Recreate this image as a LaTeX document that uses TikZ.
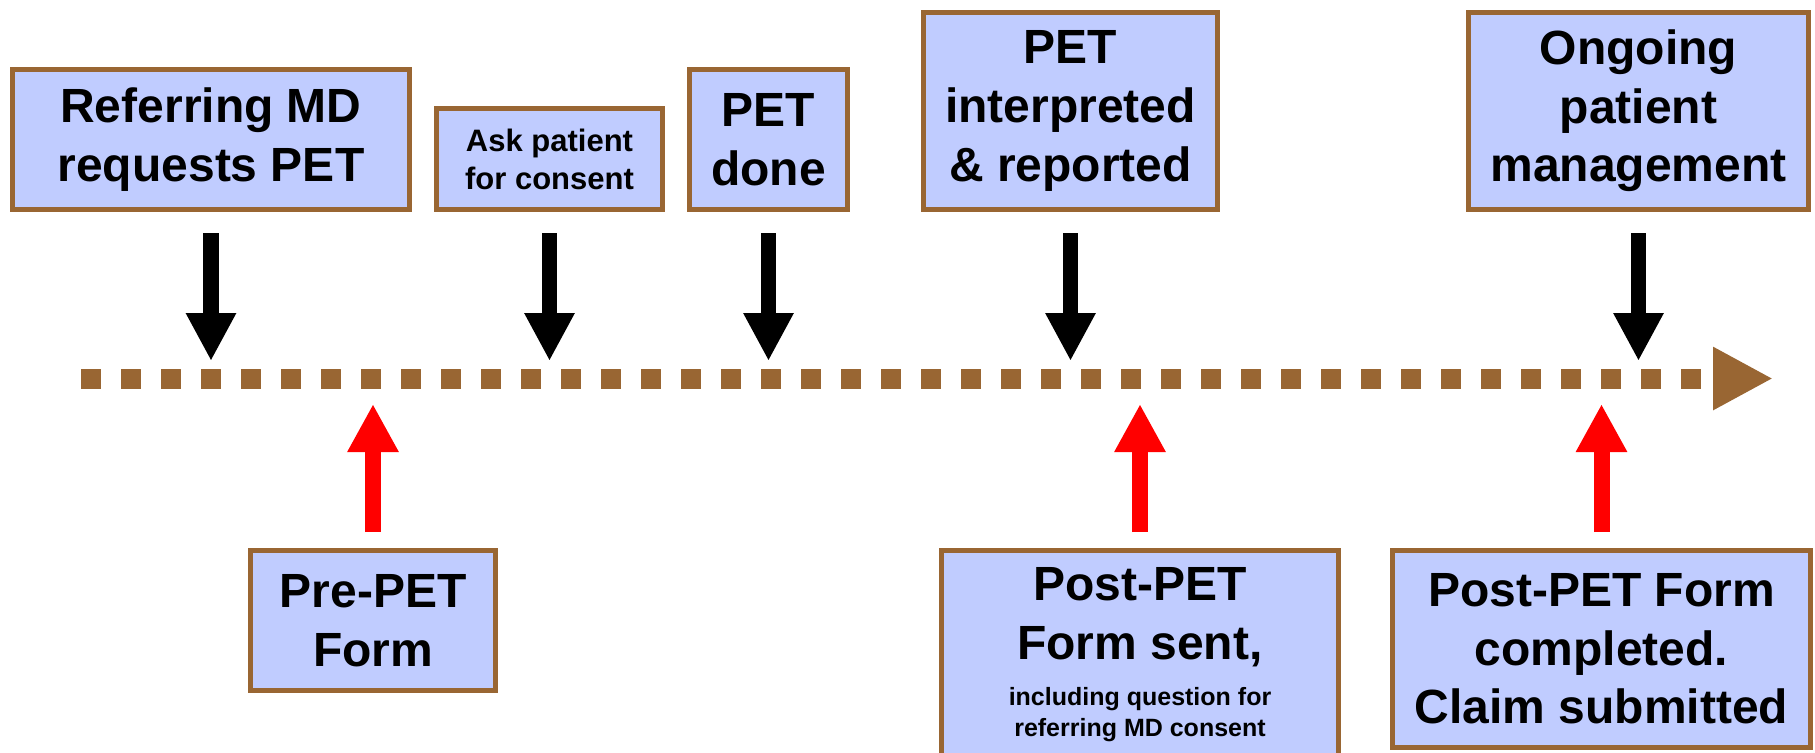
\documentclass[tikz,border=0pt]{standalone}
\usepackage{fontspec}
\setmainfont{Liberation Sans}
\usetikzlibrary{arrows.meta,calc}
\definecolor{brn}{RGB}{153,102,51}
\definecolor{boxfill}{RGB}{192,204,255}
\definecolor{redarr}{RGB}{255,0,0}
\begin{document}
\begin{tikzpicture}[x=0.5pt,y=-0.5pt,
  stepbox/.style={draw=brn, fill=boxfill, line width=2.5pt, inner sep=0pt, align=center,
    font=\fontsize{24}{29.3}\selectfont\bfseries},
  smallbox/.style={stepbox, font=\fontsize{15.5}{19}\selectfont\bfseries},
  downarrow/.style={draw=black, line width=7.8pt, -{Triangle[length=24pt,width=23.5pt]}, shorten <=10.5pt},
  uparrow/.style={draw=redarr, line width=8pt, -{Triangle[length=24pt,width=24pt]}, shorten <=8pt},
  timeline/.style={draw=brn, line width=10pt, dash pattern=on 10pt off 10pt, -{Triangle[length=30pt,width=29.5pt]}}
]
\useasboundingbox (0,0) rectangle (1815,752);

% top boxes
\node[stepbox, minimum width=198.5pt, minimum height=70pt] (b1) at (211,139.5) {Referring MD\\requests PET};
\node[smallbox, minimum width=113pt, minimum height=50.5pt] (b2) at (549.5,159) {Ask patient\\for consent};
\node[stepbox, minimum width=79pt, minimum height=70pt] (b3) at (768.5,139.5) {PET\\done};
\node[stepbox, minimum width=147pt, minimum height=98.5pt] (b4) at (1070.5,111) {PET\\interpreted\\\& reported};
\node[stepbox, minimum width=170pt, minimum height=98.5pt] (b5) at (1638.5,111) {Ongoing\\patient\\management};

% bottom boxes
\node[stepbox, minimum width=122.5pt, minimum height=70pt] (c1) at (373,620.5) {Pre-PET\\Form};
\node[stepbox, minimum width=198.5pt, minimum height=104.5pt] (c2) at (1140,655) {Post-PET\\Form sent,\\[-6.5pt]{\fontsize{12.5}{15.5}\selectfont including question for}\\[-13.5pt]{\fontsize{12.5}{15.5}\selectfont referring MD consent}};
\node[stepbox, minimum width=209pt, minimum height=98.5pt] (c3) at (1601.5,649) {Post-PET Form\\completed.\\Claim submitted};

% timeline
\coordinate (ts) at (81,378.5);
\coordinate (te) at (1773,378.5);
\draw[timeline] (ts) -- (te);

% black arrows
\foreach \n in {b1,b2,b3,b4,b5}{
  \path (\n.south) ++(0,149) coordinate (\n tip);
  \draw[downarrow] (\n.south) -- (\n tip);
}
% red arrows
\foreach \n in {c1,c2,c3}{
  \path (\n.north) ++(0,-144) coordinate (\n tip);
  \draw[uparrow] (\n.north) -- (\n tip);
}
\end{tikzpicture}
\end{document}
